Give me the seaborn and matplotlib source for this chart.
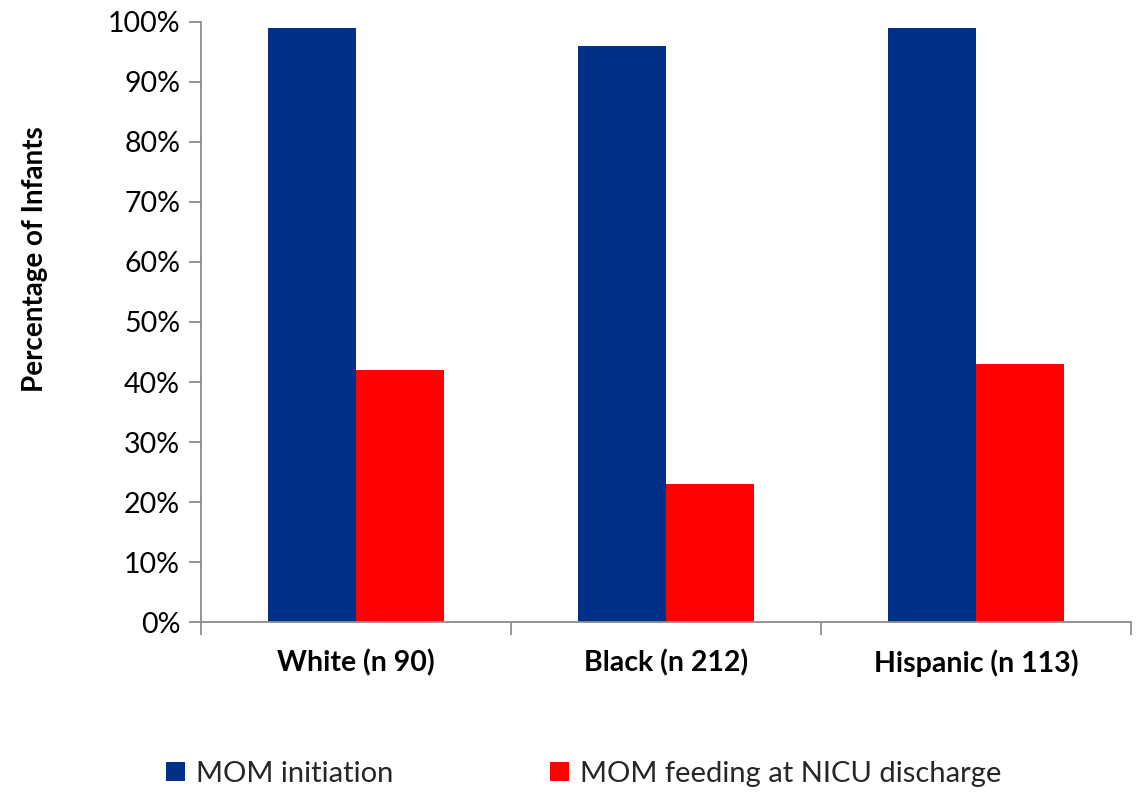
import matplotlib
matplotlib.use("Agg")
import matplotlib.pyplot as plt
import seaborn as sns
import pandas as pd
from matplotlib.ticker import MultipleLocator, FuncFormatter
from matplotlib.patches import Patch

groups = ["White (n 90)", "Black (n 212)", "Hispanic (n 113)"]
series = ["MOM initiation", "MOM feeding at NICU discharge"]
initiation = [99, 96, 99]
discharge = [42, 23, 43]
colors = ["#003087", "#FF0000"]

df = pd.DataFrame({
    "group": groups * 2,
    "series": [series[0]] * 3 + [series[1]] * 3,
    "pct": initiation + discharge,
})

sns.set_theme(style="white")
plt.rcParams["font.family"] = ["Lato", "DejaVu Sans"]

fig = plt.figure(figsize=(11.4, 7.93), dpi=100)
ax = fig.add_axes([0.1763, 0.2156, 0.8157, 0.7567])

sns.barplot(data=df, x="group", y="pct", hue="series", palette=colors,
            width=0.57, gap=0, saturation=1, ax=ax, legend=False,
            edgecolor="none", linewidth=0)

ax.set_xlim(-0.5, 2.5)
ax.set_ylim(0, 100)
ax.yaxis.set_major_locator(MultipleLocator(10))
ax.yaxis.set_major_formatter(FuncFormatter(lambda v, p: f"{int(round(v))}%"))

spine_color = "#8C8C8C"
for s in ["top", "right"]:
    ax.spines[s].set_visible(False)
for s in ["left", "bottom"]:
    ax.spines[s].set_color(spine_color)
    ax.spines[s].set_linewidth(1.3)

ax.tick_params(axis="y", which="major", left=True, length=9, width=1.3,
               color=spine_color, labelsize=20.5, pad=6, labelcolor="black")
# category ticks sit on the group boundaries
ax.set_xticks([-0.5, 0.5, 1.5, 2.5])
ax.set_xticklabels([])
ax.set_xticks([0, 1, 2], minor=True)
ax.set_xticklabels(groups, minor=True, fontsize=20.5, fontweight="bold")
ax.tick_params(axis="x", which="major", bottom=True, length=9, width=1.3,
               color=spine_color)
ax.tick_params(axis="x", which="minor", bottom=False, length=0, pad=20,
               labelcolor="black")

ax.set_xlabel("")
ax.set_ylabel("Percentage of Infants", fontsize=20, fontweight="bold",
              color="black")
ax.yaxis.set_label_coords(-0.165, 0.605)

handles = [Patch(facecolor=c, edgecolor="none") for c in colors]
fig.legend(handles, series, loc="center", bbox_to_anchor=(0.512, 0.024),
           ncol=2, frameon=False, fontsize=21, handlelength=0.65,
           handleheight=0.65, handletextpad=0.35, columnspacing=5.4)

fig.savefig("out.png", dpi=100, facecolor="white")
